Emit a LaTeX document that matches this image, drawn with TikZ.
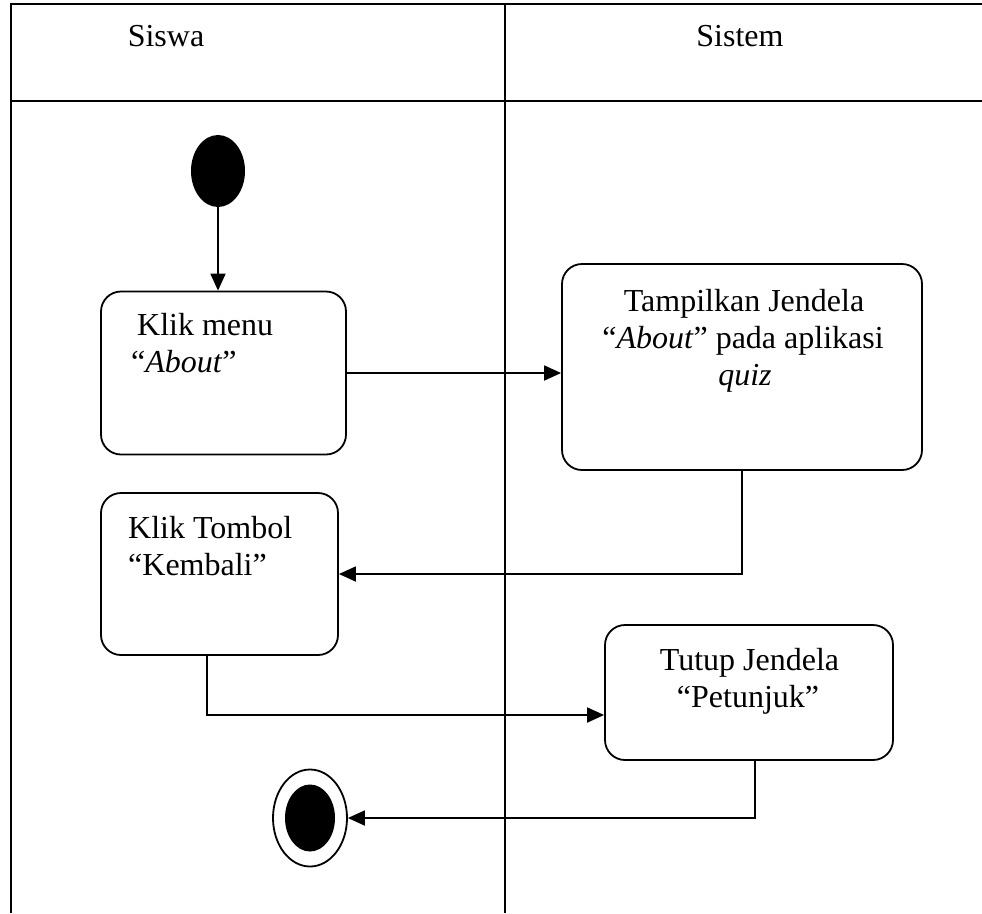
\documentclass[tikz,border=0pt]{standalone}
\usepackage{fontspec}
\setmainfont{Liberation Serif}
\usetikzlibrary{shapes.geometric,arrows.meta,calc}
\begin{document}
\begin{tikzpicture}[x=1pt,y=-1pt,
  lane/.style={line width=2pt},
  act/.style={draw,line width=1.8pt,rounded corners=20pt,inner sep=0pt},
  txt/.style={font=\fontsize{32}{37}\selectfont,inner sep=0pt,anchor=base},
  flow/.style={line width=1.8pt,-{Triangle[length=17pt,width=15pt]}}]
\useasboundingbox (0,0) rectangle (982,913);
% swimlane frame
\draw[lane] (11,913) -- (11,4) -- (982,4);
\draw[lane] (11,101) -- (982,101);
\draw[lane] (505,4) -- (505,913);
\node[txt] (hSiswa) at (166,46) {Siswa};
\node[txt] (hSistem) at (740,46) {Sistem};
% start node
\node[ellipse,fill=black,inner sep=0pt,minimum width=54pt,minimum height=72pt] (start) at (218,171) {};
% activities
\node[act,minimum width=245pt,minimum height=163pt] (b1) at (223.5,373) {};
\node[txt,anchor=base west] (b1a) at (137,335) {Klik menu};
\node[txt,anchor=base west] (b1b) at (131,372) {“\textit{About}”};
\node[act,minimum width=360pt,minimum height=206pt] (b2) at (742,367) {};
\node[txt] (b2a) at (744,311) {Tampilkan Jendela};
\node[txt] (b2b) at (743,348) {“\textit{About}” pada aplikasi};
\node[txt] (b2c) at (745,385) {\textit{quiz}};
\node[act,minimum width=237pt,minimum height=162pt] (b3) at (219.5,574) {};
\node[txt,anchor=base west] (b3a) at (128,538) {Klik Tombol};
\node[txt,anchor=base west] (b3b) at (128,575) {“Kembali”};
\node[act,minimum width=288pt,minimum height=135pt] (b4) at (749,692.5) {};
\node[txt] (b4a) at (749.5,670) {Tutup Jendela};
\node[txt] (b4b) at (748,707) {“Petunjuk”};
% end node
\node[ellipse,draw,line width=1.8pt,inner sep=0pt,minimum width=74pt,minimum height=97pt] (end) at (310,818) {};
\node[ellipse,fill=black,inner sep=0pt,minimum width=50pt,minimum height=67pt] (endin) at (310,818) {};
% connectors
\coordinate (c1) at ($(b3.south)+(-12.5,0)$);
\coordinate (c2) at ($(b4.west)+(0,22.5)$);
\coordinate (c3) at ($(b4.south)+(6,0)$);
\draw[flow] (start.south) -- (start.south |- b1.north);
\draw[flow] (b1.east) -- (b1.east -| b2.west);
\draw[flow] (b2.south) |- (b3.east);
\draw[flow] (c1) |- (c2);
\draw[flow] (c3) |- (end.east);
\end{tikzpicture}
\end{document}
